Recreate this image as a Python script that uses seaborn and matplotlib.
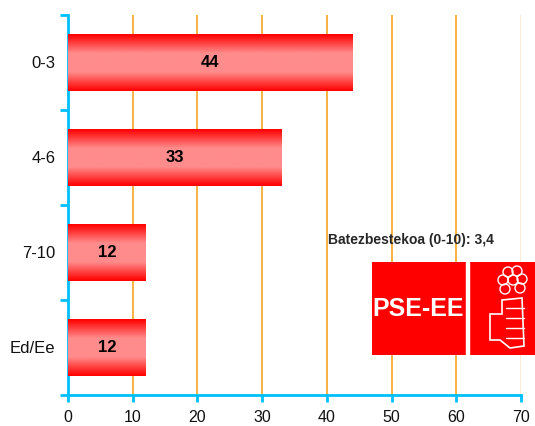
import numpy as np
import pandas as pd
import seaborn as sns
import matplotlib.pyplot as plt
from matplotlib.colors import LinearSegmentedColormap
from matplotlib.patches import Rectangle, Circle, Polygon

# data
categories = ['0-3', '4-6', '7-10', 'Ed/Ee']
values = [44, 33, 12, 12]
xticks = [0, 10, 20, 30, 40, 50, 60, 70]
average_label = 'Batezbestekoa (0-10): 3,4'

df = pd.DataFrame({'cat': categories, 'val': values})

sns.set_style('white')
plt.rcParams['font.family'] = ['Liberation Sans', 'DejaVu Sans']

fig = plt.figure(figsize=(5.35, 4.26), dpi=100)
ax = fig.add_axes([0.1271, 0.0728, 0.8467, 0.892])

sns.barplot(data=df, x='val', y='cat', orient='h', width=0.59,
            color='red', ax=ax, zorder=2)

# vertical red-pink-red gradient on each bar
cmap = LinearSegmentedColormap.from_list('bar', ['#ff0000', '#ff8c8c', '#ff8c8c', '#ff0000'])
grad = np.linspace(0, 1, 100).reshape(-1, 1)
for p in ax.patches:
    x0, y0 = p.get_x(), p.get_y()
    w, h = p.get_width(), p.get_height()
    p.set_alpha(0)
    ax.imshow(grad, cmap=cmap, aspect='auto', extent=[x0, x0 + w, y0 + h, y0],
              zorder=3, interpolation='bicubic')
    ax.text(x0 + w / 2, y0 + h / 2, str(int(w)), ha='center', va='center',
            fontsize=12, fontweight='bold', color='black', zorder=4)

ax.set_xlim(0, 70)
ax.set_ylim(3.5, -0.5)
ax.set_xticks(xticks)
ax.set_xlabel('')
ax.set_ylabel('')

# grid
ax.xaxis.grid(True, color='#f5a623', linewidth=1.2, zorder=1)
ax.set_axisbelow(True)
ax.get_xgridlines()[-1].set_color('#fde6cc')

# spines
blue = '#00bfff'
for s in ['top', 'right']:
    ax.spines[s].set_visible(False)
ax.spines['left'].set_color(blue)
ax.spines['bottom'].set_color(blue)
ax.spines['left'].set_linewidth(2)
ax.spines['bottom'].set_linewidth(2)

ax.tick_params(axis='y', which='major', left=False, length=0, labelsize=12, pad=9,
               labelcolor='#111111')
ax.set_yticks([-0.5, 0.5, 1.5, 2.5, 3.5], minor=True)
ax.tick_params(axis='y', which='minor', left=True, length=6, width=2, color=blue, direction='out')
ax.tick_params(axis='x', which='major', bottom=True, length=5, width=2, color=blue,
               direction='out', labelsize=11.5, pad=6, labelcolor='#111111')

fig.text(328 / 535, 1 - 240 / 426, average_label, fontsize=10, fontweight='bold',
         ha='left', va='center')

# logo
lax = fig.add_axes([372 / 535, 1 - 355 / 426, 163 / 535, 93 / 426])
lax.set_xlim(0, 163)
lax.set_ylim(93, 0)
lax.axis('off')
lax.add_patch(Rectangle((0, 0), 163, 93, color='#ff0000'))
lax.add_patch(Rectangle((94, 0), 3, 93, color='white'))
lax.text(46, 47, 'PSE-EE', color='white', fontsize=18, fontweight='bold',
         ha='center', va='center')
# rose
for cx, cy in [(136, 10), (145, 9), (131, 18), (150, 17), (133, 27), (148, 26), (141, 18)]:
    lax.add_patch(Circle((cx, cy), 5, fill=False, ec='white', lw=1))
# fist
lax.add_patch(Polygon([(118, 52), (130, 52), (130, 38), (150, 36), (152, 84), (138, 86),
                       (128, 78), (118, 78)],
                      closed=True, fill=False, ec='white', lw=1.2))
for yy in [46, 56, 66, 76]:
    lax.plot([134, 152], [yy, yy], color='white', lw=1)

fig.savefig('out.png', dpi=100)
